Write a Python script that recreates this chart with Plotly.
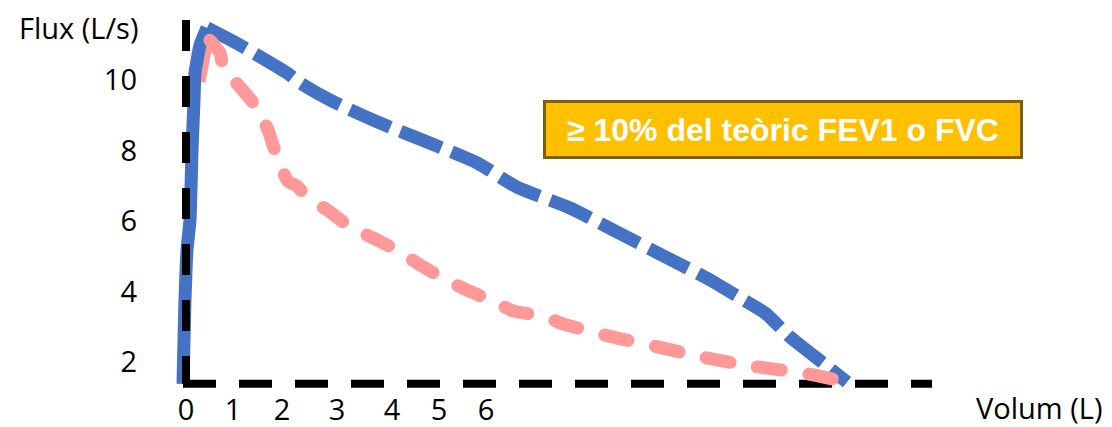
import plotly.graph_objects as go

# Flow–volume loops (volume in L, flow in L/s)
blue_rise_vol = [-0.06, -0.04, -0.02, 0.02, 0.08, 0.12, 0.16, 0.18, 0.28, 0.42]
blue_rise_flow = [1.38, 2.62, 3.76, 5.18, 6.03, 8.01, 9.43, 10.20, 10.99, 11.48]

blue_fall_vol = [0.42, 1.08, 2.02, 2.28, 2.88, 3.88, 4.88, 5.82, 6.62, 7.68,
                 8.62, 9.62, 10.48, 11.08, 11.58, 12.08, 12.74, 13.22]
blue_fall_flow = [11.48, 10.99, 10.20, 9.92, 9.43, 8.78, 8.21, 7.65, 6.96, 6.37,
                  5.69, 4.96, 4.33, 3.82, 3.39, 2.71, 1.97, 1.43]

pink_rise_vol = [0.32, 0.48]
pink_rise_flow = [9.94, 11.13]

pink_fall_vol = [0.48, 0.68, 0.74, 1.08, 1.42, 1.64, 1.82, 2.04, 2.22, 2.42,
                 2.88, 3.28, 3.74, 4.28, 4.68, 5.14, 5.62, 6.14, 6.54, 7.14,
                 7.54, 8.22, 8.62, 9.28, 10.22, 11.28, 12.34, 12.82, 13.34]
pink_fall_flow = [11.13, 10.77, 10.37, 9.80, 9.21, 8.58, 7.82, 7.13, 6.99, 6.68,
                  6.26, 5.83, 5.52, 5.12, 4.75, 4.38, 4.04, 3.73, 3.45, 3.30,
                  3.08, 2.82, 2.68, 2.48, 2.17, 1.89, 1.69, 1.55, 1.40]

# Hand-drawn axes
axis_v_vol = [0.0, 0.0]
axis_v_flow = [11.70, 1.38]
axis_h_vol = [-0.06, 14.92]
axis_h_flow = [1.38, 1.38]

x_tick_vals = [0.0, 0.94, 1.92, 3.02, 4.12, 5.06, 6.0]
x_tick_text = ["0", "1", "2", "3", "4", "5", "6"]
y_tick_vals = [2, 4, 6, 8, 10]
y_tick_text = ["2", "4", "6", "8", "10"]

BLUE = "#4472C4"
PINK = "#FF9999"

fig = go.Figure()
fig.add_trace(go.Scatter(x=pink_rise_vol, y=pink_rise_flow, mode="lines",
                         line=dict(color=PINK, width=7)))
fig.add_trace(go.Scatter(x=blue_rise_vol, y=blue_rise_flow, mode="lines",
                         line=dict(color=BLUE, width=13, shape="spline", smoothing=0.4)))
fig.add_trace(go.Scatter(x=blue_fall_vol, y=blue_fall_flow, mode="lines",
                         line=dict(color=BLUE, width=13, dash="44px,11px",
                                   shape="spline", smoothing=0.6)))
fig.add_trace(go.Scatter(x=axis_v_vol, y=axis_v_flow, mode="lines",
                         line=dict(color="black", width=8, dash="31px,25px")))
fig.add_trace(go.Scatter(x=axis_h_vol, y=axis_h_flow, mode="lines",
                         line=dict(color="black", width=8, dash="33px,23px")))
fig.add_trace(go.Scatter(x=pink_fall_vol, y=pink_fall_flow, mode="lines", meta="round",
                         line=dict(color=PINK, width=13, dash="24px,28px",
                                   shape="spline", smoothing=0.6)))

L, B = 140, 37
W, H = 1112, 427
x_range = [(L - 186) / 50, (W - 186) / 50]
y_range = [(432.5 - (H - B)) / 35.25, 432.5 / 35.25]

label_font = dict(family="Open Sans", size=29, color="black")

fig.update_layout(
    width=W, height=H,
    margin=dict(l=L, r=0, t=0, b=B),
    paper_bgcolor="white", plot_bgcolor="white",
    showlegend=False,
    xaxis=dict(range=x_range, showgrid=False, zeroline=False, showline=False,
               tickmode="array", tickvals=x_tick_vals, ticktext=x_tick_text,
               tickfont=label_font, ticks="", ticklabelstandoff=0),
    yaxis=dict(range=y_range, showgrid=False, zeroline=False, showline=False,
               tickmode="array", tickvals=y_tick_vals, ticktext=y_tick_text,
               tickfont=label_font, ticks="", ticklabelstandoff=2),
    annotations=[
        dict(text="Flux (L/s)", xref="paper", yref="paper", x=0.0, y=(H - B - 28) / (H - B),
             xanchor="right", yanchor="middle", showarrow=False, font=label_font),
        dict(text="Volum (L)", xref="paper", yref="paper", x=(1104 - L) / (W - L),
             y=(H - B - 407) / (H - B), xanchor="right", yanchor="middle",
             showarrow=False, font=label_font),
        dict(text="<b>≥ 10% del teòric FEV1 o FVC</b>", xref="paper", yref="paper",
             x=(783 - L) / (W - L), y=(H - B - 129.5) / (H - B),
             xanchor="center", yanchor="middle", showarrow=False,
             font=dict(family="Liberation Sans", size=32, color="white"),
             bgcolor="#FFC000", bordercolor="#7F6000", borderwidth=3, borderpad=0,
             width=474, height=53, align="center"),
    ],
)

post_script = """
var gd = document.getElementById('{plot_id}');
function roundCaps() {
  var traces = gd.querySelectorAll('.scatterlayer .trace');
  gd.data.forEach(function (t, i) {
    if (t.meta === 'round' && traces[i]) {
      traces[i].querySelectorAll('path.js-line').forEach(function (p) {
        p.style.strokeLinecap = 'round';
        p.style.strokeLinejoin = 'round';
      });
    }
  });
}
roundCaps();
gd.on('plotly_afterplot', roundCaps);
"""

fig.write_html("out.html", post_script=post_script)
